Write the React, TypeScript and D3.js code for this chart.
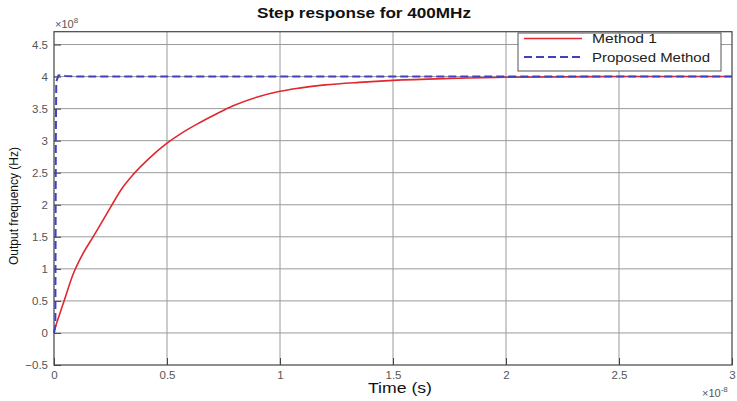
import React, { useEffect, useRef } from 'react';
import * as d3 from 'd3';

// time in units of 1e-8 s, frequency in units of 1e8 Hz
const method1T = [0, 0.04, 0.085, 0.13, 0.173, 0.2, 0.25, 0.3, 0.35, 0.42, 0.5, 0.57, 0.644, 0.72, 0.79, 0.9, 1.0, 1.085, 1.2, 1.35, 1.5, 1.75, 2.0, 2.5, 3.0];
const method1Y = [0.03, 0.45, 0.92, 1.25, 1.5, 1.66, 1.96, 2.25, 2.47, 2.72, 2.96, 3.13, 3.28, 3.42, 3.54, 3.68, 3.77, 3.82, 3.87, 3.91, 3.94, 3.97, 3.99, 4.0, 4.0];

const proposedT = [0, 0.006, 0.008, 0.01, 0.02, 0.05, 0.1, 3.0];
const proposedY = [0, 0.1, 3.0, 3.92, 4.02, 4.01, 4.0, 4.0];

const xTicks = [0, 0.5, 1, 1.5, 2, 2.5, 3];
const yTicks = [-0.5, 0, 0.5, 1, 1.5, 2, 2.5, 3, 3.5, 4, 4.5];
const legendNames = ['Method 1', 'Proposed Method'];

export default function App() {
  const svgRef = useRef<SVGSVGElement>(null);

  useEffect(() => {
    const width = 737;
    const height = 401;
    const margin = { top: 31.7, right: 5, bottom: 36, left: 54 };
    const font = '"Liberation Sans", Arial, sans-serif';

    const svg = d3.select(svgRef.current);
    svg.selectAll('*').remove();
    svg.attr('width', width).attr('height', height);

    svg.append('rect').attr('width', width).attr('height', height).attr('fill', '#fff');

    const x = d3.scaleLinear().domain([0, 3]).range([margin.left, width - margin.right]);
    const y = d3.scaleLinear().domain([-0.5, 4.7]).range([height - margin.bottom, margin.top]);

    // grid
    const grid = svg.append('g');
    grid.selectAll('line.v')
      .data(xTicks.slice(1, -1))
      .join('line')
      .attr('x1', d => x(d)).attr('x2', d => x(d))
      .attr('y1', y(-0.5)).attr('y2', y(4.7))
      .attr('stroke', '#9a9a9a').attr('stroke-width', 1);
    grid.selectAll('line.h')
      .data(yTicks.slice(1))
      .join('line')
      .attr('x1', x(0)).attr('x2', x(3))
      .attr('y1', d => y(d)).attr('y2', d => y(d))
      .attr('stroke', '#9a9a9a').attr('stroke-width', 1);

    // axes (ticks inside)
    const xAxis = svg.append('g')
      .attr('transform', `translate(0,${y(-0.5)})`)
      .call(d3.axisBottom(x).tickValues(xTicks).tickSizeInner(-7).tickSizeOuter(0).tickPadding(6).tickFormat(d3.format('')));
    const yAxis = svg.append('g')
      .attr('transform', `translate(${x(0)},0)`)
      .call(d3.axisLeft(y).tickValues(yTicks).tickSizeInner(-7).tickSizeOuter(0).tickPadding(6).tickFormat(d3.format('')));
    [xAxis, yAxis].forEach(a => {
      a.select('.domain').remove();
      a.selectAll('line').attr('stroke', '#444');
      a.selectAll('text').attr('fill', '#555').attr('font-family', font).attr('font-size', 11.5);
    });

    // box
    svg.append('rect')
      .attr('x', x(0)).attr('y', y(4.7))
      .attr('width', x(3) - x(0)).attr('height', y(-0.5) - y(4.7))
      .attr('fill', 'none').attr('stroke', '#444').attr('stroke-width', 1.2);

    // lines
    const m1 = method1T.map((t, i) => [t, method1Y[i]] as [number, number]);
    const pr = proposedT.map((t, i) => [t, proposedY[i]] as [number, number]);
    const line = d3.line<[number, number]>().x(d => x(d[0])).y(d => y(d[1])).curve(d3.curveMonotoneX);
    const lineLin = d3.line<[number, number]>().x(d => x(d[0])).y(d => y(d[1]));

    svg.append('path').datum(m1)
      .attr('fill', 'none').attr('stroke', '#e0282e').attr('stroke-width', 1.6)
      .attr('d', line);
    svg.append('path').datum(pr)
      .attr('fill', 'none').attr('stroke', '#4040c0').attr('stroke-width', 2)
      .attr('stroke-dasharray', '8,4')
      .attr('d', lineLin);

    // exponents
    const e1 = svg.append('text').attr('x', x(0) + 1).attr('y', 28)
      .attr('font-family', font).attr('font-size', 11).attr('fill', '#555');
    e1.append('tspan').text('×10');
    e1.append('tspan').attr('dy', -5).attr('font-size', 8).text('8');
    const e2 = svg.append('text').attr('x', 702).attr('y', 397)
      .attr('font-family', font).attr('font-size', 11).attr('fill', '#555');
    e2.append('tspan').text('×10');
    e2.append('tspan').attr('dy', -5).attr('font-size', 8).text('-8');

    // title and labels
    svg.append('text')
      .attr('x', 364).attr('y', 18).attr('text-anchor', 'middle')
      .attr('font-family', font).attr('font-weight', 'bold').attr('font-size', 14)
      .attr('textLength', 214).attr('lengthAdjust', 'spacingAndGlyphs')
      .attr('fill', '#111').text('Step response for 400MHz');
    svg.append('text')
      .attr('x', 400).attr('y', 393).attr('text-anchor', 'middle')
      .attr('font-family', font).attr('font-size', 14)
      .attr('textLength', 64).attr('lengthAdjust', 'spacingAndGlyphs')
      .attr('fill', '#111').text('Time (s)');
    svg.append('text')
      .attr('transform', `translate(18,206) rotate(-90)`).attr('text-anchor', 'middle')
      .attr('font-family', font).attr('font-size', 12.5)
      .attr('textLength', 118).attr('lengthAdjust', 'spacingAndGlyphs')
      .attr('fill', '#111').text('Output frequency (Hz)');

    // legend
    const lg = svg.append('g');
    lg.append('rect')
      .attr('x', 518).attr('y', 33).attr('width', 203).attr('height', 38)
      .attr('fill', '#fff').attr('stroke', '#555').attr('stroke-width', 1);
    const ly = [38.5, 57];
    lg.append('line').attr('x1', 524).attr('x2', 582).attr('y1', ly[0]).attr('y2', ly[0])
      .attr('stroke', '#e0282e').attr('stroke-width', 1.6);
    lg.append('line').attr('x1', 524).attr('x2', 582).attr('y1', ly[1]).attr('y2', ly[1])
      .attr('stroke', '#4040c0').attr('stroke-width', 2).attr('stroke-dasharray', '8,4');
    lg.selectAll('text.lbl')
      .data(legendNames)
      .join('text')
      .attr('x', 592).attr('y', (d, i) => ly[i] + 4.5)
      .attr('font-family', font).attr('font-size', 13)
      .attr('textLength', (d, i) => (i === 0 ? 65 : 118)).attr('lengthAdjust', 'spacingAndGlyphs')
      .attr('fill', '#222').text(d => d);
  }, []);

  return (
    <div style={{ position: 'absolute', left: 0, top: 0 }}>
      <svg ref={svgRef}></svg>
    </div>
  );
}
